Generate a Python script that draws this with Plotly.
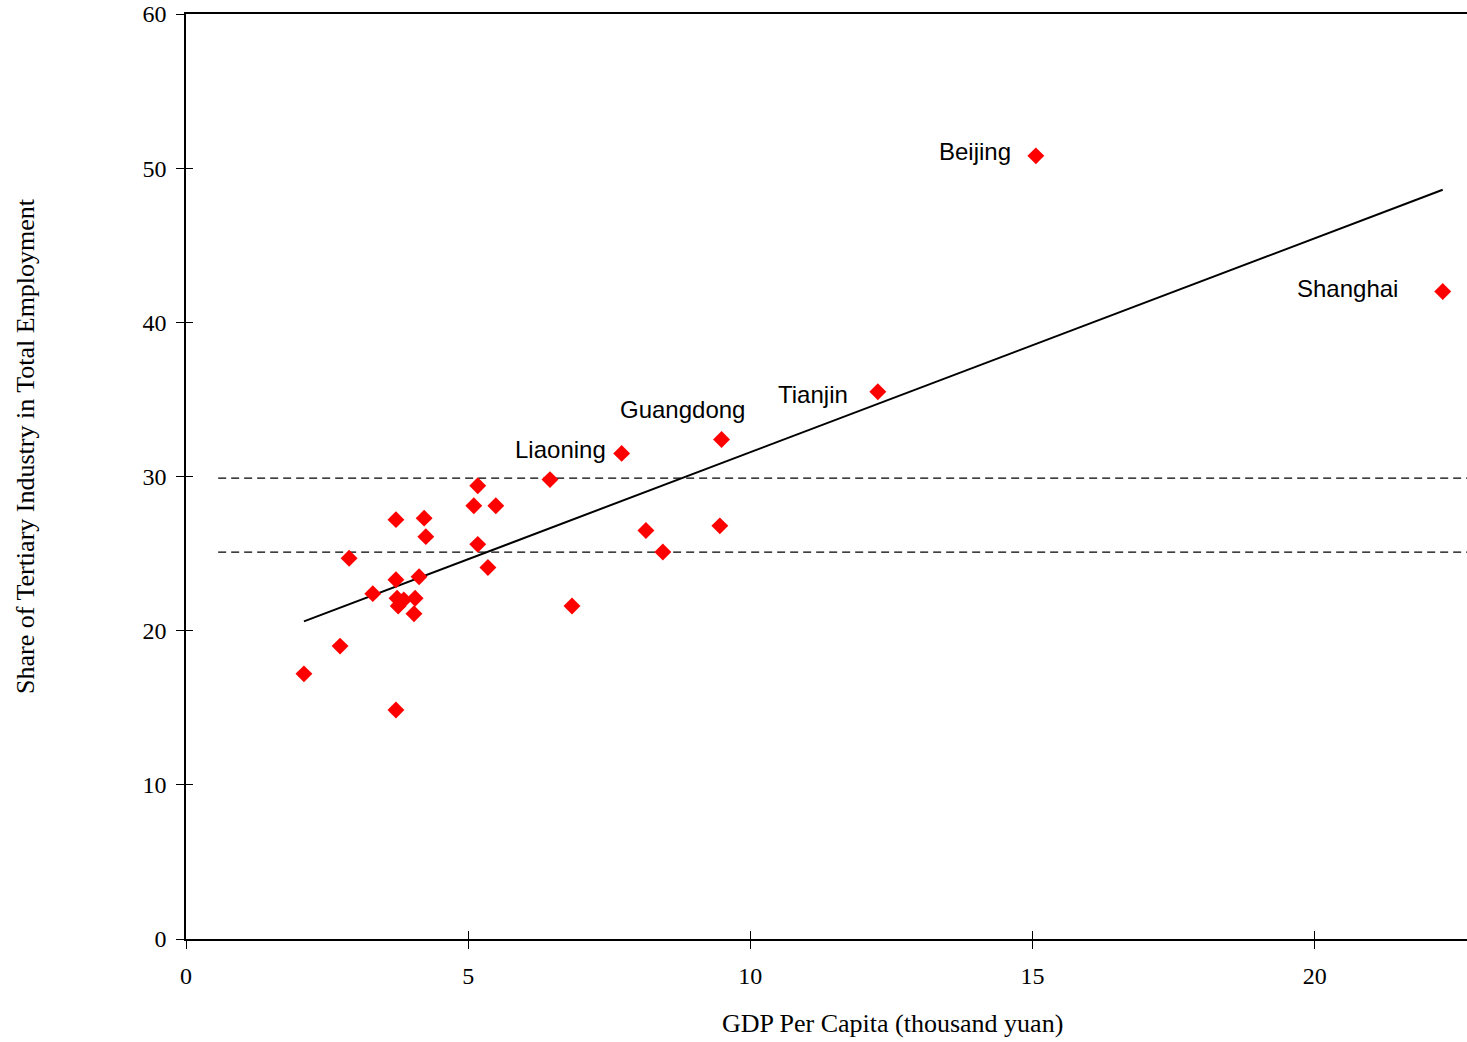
import plotly.graph_objects as go

# GDP per capita (thousand yuan) and share of tertiary industry in employment (%)
gdp = [2.09, 2.73, 2.89, 3.31, 3.72, 3.72, 3.74, 3.76, 3.86, 4.04, 4.06, 4.13,
       4.22, 4.25, 3.72, 5.10, 5.17, 5.49, 5.17, 5.35, 6.45, 7.72, 6.84, 8.15,
       8.45, 9.49, 9.46, 12.26, 15.06, 22.27]
share = [17.2, 19.0, 24.7, 22.4, 27.2, 23.3, 22.1, 21.6, 22.0, 21.1, 22.1, 23.5,
         27.3, 26.1, 14.85, 28.1, 29.4, 28.1, 25.6, 24.1, 29.8, 31.5, 21.6, 26.5,
         25.1, 32.4, 26.8, 35.5, 50.8, 42.0]

# fitted trend line end points
trend_x = [2.09, 22.27]
trend_y = [20.6, 48.6]

# reference horizontal levels
ref_levels = [29.9, 25.1]
ref_x = [0.57, 22.7]

# labelled provinces
label_names = ["Beijing", "Shanghai", "Tianjin", "Guangdong", "Liaoning"]
label_x = [13.98, 20.59, 11.11, 8.80, 6.63]
label_y = [51.05, 42.22, 35.35, 34.32, 31.73]

x_range = [0, 22.7]
y_range = [0, 60]
x_ticks = [0, 5, 10, 15, 20]
y_ticks = [0, 10, 20, 30, 40, 50, 60]

fig = go.Figure()

for lv in ref_levels:
    fig.add_trace(go.Scatter(x=ref_x, y=[lv, lv], mode="lines",
                             line=dict(color="black", width=1.3, dash="8px,5px"),
                             hoverinfo="skip", showlegend=False))

fig.add_trace(go.Scatter(x=trend_x, y=trend_y, mode="lines",
                         line=dict(color="black", width=2),
                         hoverinfo="skip", showlegend=False))

fig.add_trace(go.Scatter(x=gdp, y=share, mode="markers",
                         marker=dict(symbol="diamond", size=13, color="#ff0000",
                                     line=dict(width=0)),
                         showlegend=False))

# dummy trace for the overlay axes that draw the inner half of the cross ticks
fig.add_trace(go.Scatter(x=[None], y=[None], xaxis="x2", yaxis="y2",
                         mode="markers", hoverinfo="skip", showlegend=False))

serif = "Liberation Serif, Times New Roman, serif"
tickfont = dict(family=serif, size=24, color="black")

fig.update_layout(
    width=1467, height=1040,
    margin=dict(l=186, r=0, t=14, b=101, autoexpand=False),
    paper_bgcolor="white", plot_bgcolor="white",
    xaxis=dict(range=x_range, tickvals=x_ticks, ticks="outside", ticklen=8,
               tickcolor="black", tickwidth=1, showline=True, linecolor="black",
               linewidth=1.5, mirror=True, showgrid=False, zeroline=False,
               tickfont=tickfont, ticklabelstandoff=6, ticklabeloverflow="allow",
               automargin=False),
    yaxis=dict(range=y_range, tickvals=y_ticks, ticks="outside", ticklen=8,
               tickcolor="black", tickwidth=1, showline=True, linecolor="black",
               linewidth=1.5, showgrid=False, zeroline=False, tickfont=tickfont,
               ticklabelstandoff=5, ticklabeloverflow="allow", automargin=False),
    xaxis2=dict(range=x_range, tickvals=x_ticks, ticks="inside", ticklen=8,
                tickcolor="black", tickwidth=1, overlaying="x", anchor="y2",
                showline=False, showgrid=False, zeroline=False,
                showticklabels=False, automargin=False),
    yaxis2=dict(range=y_range, tickvals=y_ticks, ticks="inside", ticklen=7,
                tickcolor="black", tickwidth=1, overlaying="y", anchor="x2",
                showline=False, showgrid=False, zeroline=False,
                showticklabels=False, automargin=False),
)

for name, lx, ly in zip(label_names, label_x, label_y):
    fig.add_annotation(x=lx, y=ly, text=name, showarrow=False,
                       xanchor="center", yanchor="middle",
                       font=dict(family="Liberation Sans, Arial, sans-serif",
                                 size=24, color="black"))

# axis titles placed in paper coordinates (plot area spans 186..1467 x 14..939)
fig.add_annotation(xref="paper", yref="paper", x=(893 - 186) / 1281, y=(939 - 1023) / 925,
                   xanchor="center", yanchor="middle",
                   text="GDP Per Capita (thousand yuan)", showarrow=False,
                   font=dict(family=serif, size=26, color="black"))
fig.add_annotation(xref="paper", yref="paper", x=(25 - 186) / 1281, y=(939 - 446) / 925,
                   xanchor="center", yanchor="middle",
                   text="Share of Tertiary Industry in Total Employment",
                   textangle=-90, showarrow=False,
                   font=dict(family=serif, size=26, color="black"))

fig.write_html("out.html", config={"displayModeBar": False},
               post_script="document.body.style.margin='0';document.body.style.overflow='hidden';")
